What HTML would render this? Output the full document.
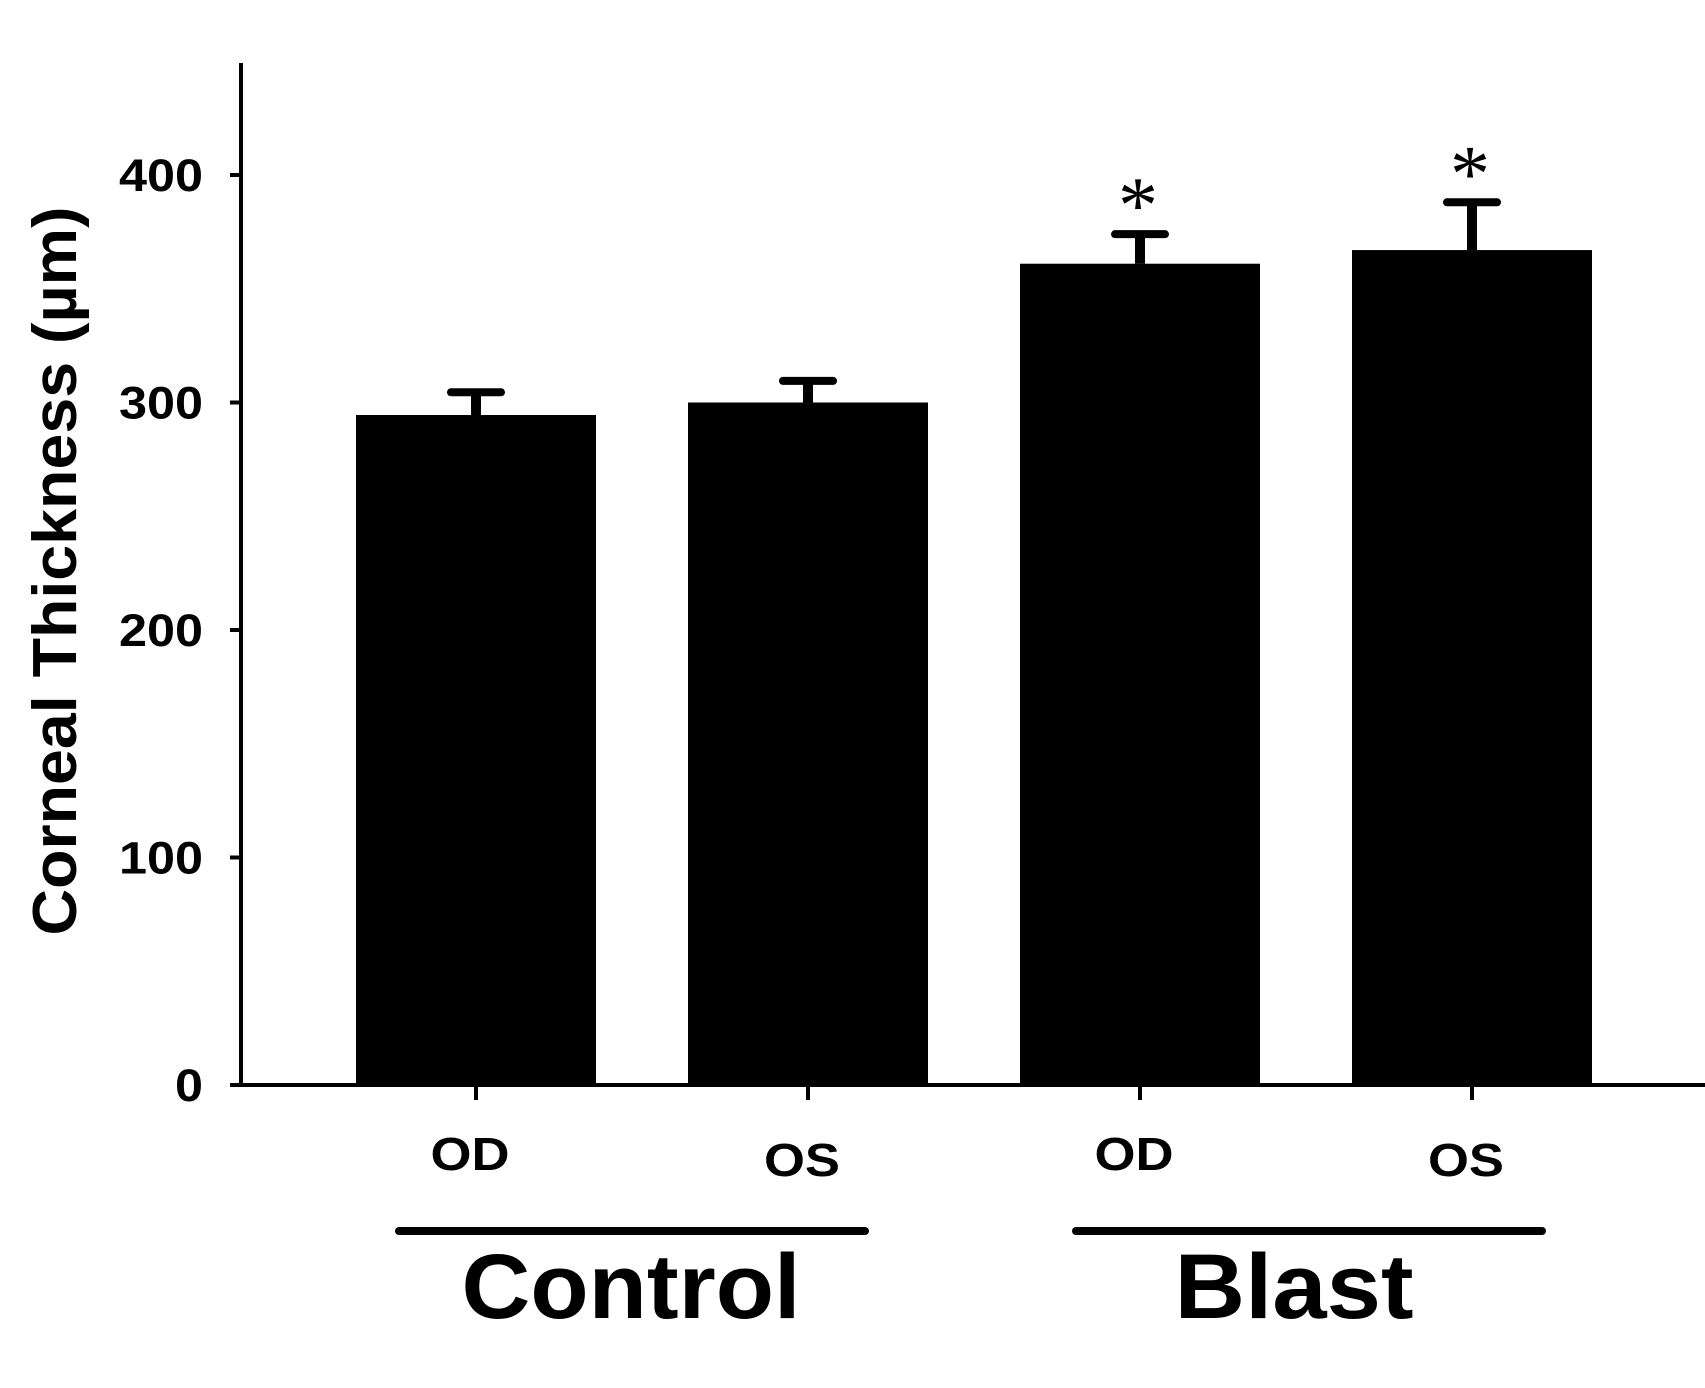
<!DOCTYPE html>
<html><head><meta charset="utf-8"><style>
html,body{margin:0;padding:0;background:#fff;}
svg{display:block;font-family:"Liberation Sans",Arial,sans-serif;}
</style></head>
<body>
<svg id="chart" width="1705" height="1388" viewBox="0 0 1705 1388">
<g id="marks"></g>
</svg>
<script>
const categories = ["OD", "OS", "OD", "OS"];
const means = [294.5, 300, 361, 367];
const errors = [10, 9.5, 13, 21];
const significant = [false, false, true, true];
const yTicks = [0, 100, 200, 300, 400];
const groups = ["Control", "Blast"];

const NS = "http://www.w3.org/2000/svg";
const svg = document.getElementById('chart');
const y0 = 1085, pxPerUnit = 2.275;
function yScale(v){ return y0 - v * pxPerUnit; }
function xScale(i){ return 476 + i * 332; }
const barW = 240;
function el(tag, attrs, text){
  const e = document.createElementNS(NS, tag);
  for (const k in attrs) e.setAttribute(k, attrs[k]);
  if (text !== undefined) e.textContent = text;
  svg.appendChild(e);
  return e;
}
let a = el('line', {x1:241, y1:63, x2:241, y2:y0+2, stroke:'#000','stroke-width':4});


a = el('line', {x1:230, y1:y0, x2:1705, y2:y0, stroke:'#000','stroke-width':4});


yTicks.forEach(function(t){
  const y = yScale(t);
  const tk = el('line', {x1:230, y1:y, x2:241, y2:y, stroke:'#000','stroke-width':4});
  
  
  const s = String(t);
  const lb = el('text', {x:203, y:y+16, 'text-anchor':'end','font-size':45,'font-weight':'bold', textLength: 28*s.length, lengthAdjust:'spacingAndGlyphs'}, s);
  
  
});
const yt = el('text', {x:0, y:0, 'text-anchor':'middle','font-size':62,'font-weight':'bold', textLength:729, lengthAdjust:'spacingAndGlyphs', transform:'translate(76,571) rotate(-90)'}, 'Corneal Thickness (µm)');


means.forEach(function(v, i){
  const cx = xScale(i);
  const top = yScale(v);
  const b = el('rect', {x:cx-barW/2, y:top, width:barW, height:y0-top, fill:'#000'});
  
  
  const capY = yScale(v + errors[i]);
  const eb = el('line', {x1:cx, y1:top, x2:cx, y2:capY, stroke:'#000','stroke-width':10});
  
  
  const cap = el('line', {x1:cx-25, y1:capY, x2:cx+25, y2:capY, stroke:'#000','stroke-width':8,'stroke-linecap':'round'});
  
  
  const xt = el('line', {x1:cx, y1:y0, x2:cx, y2:1100, stroke:'#000','stroke-width':4});
  
  
  const lb = el('text', {x:cx-6, y:(i%2 ? 1176 : 1170), 'text-anchor':'middle','font-size':46,'font-weight':'bold', textLength:(i%2 ? 76 : 79), lengthAdjust:'spacingAndGlyphs'}, categories[i]);
  
  
  if (significant[i]) {
    const s = el('text', {x:cx-2, y:capY - 2, 'text-anchor':'middle','font-size':80,'font-family':'Liberation Serif, serif'}, '*');
    
    
  }
});
const groupCenters = [632, 1309];
const groupTextCenters = [631, 1294];
const groupTextWidths = [339, 239];
groups.forEach(function(g, gi){
  const cx = groupCenters[gi];
  const ln = el('line', {x1:cx-233, y1:1231, x2:cx+233, y2:1231, stroke:'#000','stroke-width':8,'stroke-linecap':'round'});
  
  
  const t = el('text', {x:groupTextCenters[gi], y:1318, 'text-anchor':'middle','font-size':92,'font-weight':'bold', textLength:groupTextWidths[gi], lengthAdjust:'spacingAndGlyphs'}, g);
  
  
});
</script>
</body></html>
